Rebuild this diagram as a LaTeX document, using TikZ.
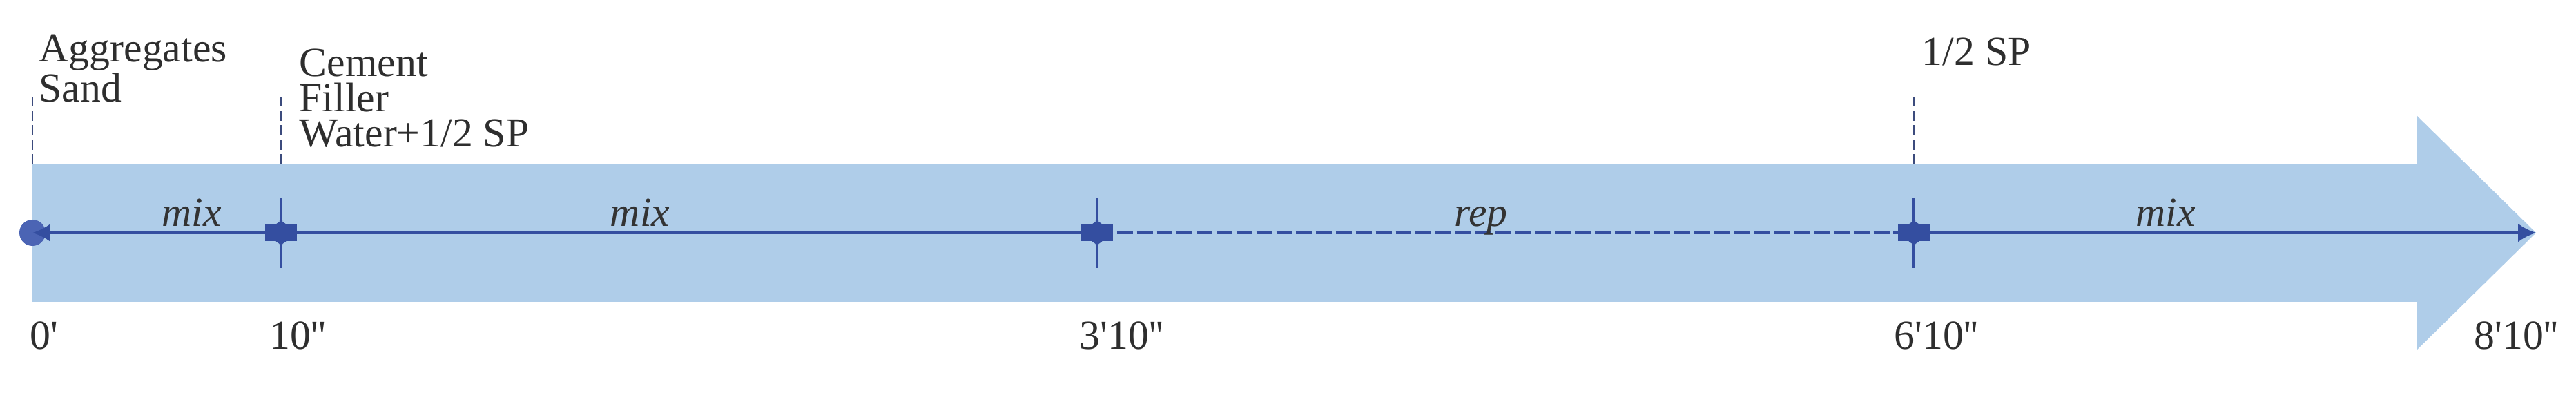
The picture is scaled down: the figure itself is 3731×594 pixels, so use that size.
\documentclass[tikz,border=0pt]{standalone}
\usepackage{fontspec}
\setmainfont{Liberation Serif}
\usetikzlibrary{arrows.meta}
\definecolor{bandblue}{RGB}{175,205,233}
\definecolor{lineblue}{RGB}{52,78,160}
\definecolor{dropnavy}{RGB}{60,75,125}
\definecolor{dotblue}{RGB}{75,100,180}
\tikzset{
    lbl/.style={font=\fontsize{17}{14.5}\selectfont, text=black!82, inner sep=0pt, align=left},
    seglbl/.style={font=\fontsize{17}{15}\selectfont\itshape, text=black!80, inner sep=0pt, anchor=base, yshift=0.09cm},
    tline/.style={lineblue, line width=1.1pt},
    dropline/.style={dropnavy, line width=0.85pt, dash pattern=on 4.2pt off 1.8pt},
    crossline/.style={lineblue, line width=0.95pt},
}
\begin{document}
\begin{tikzpicture}[x=0.01cm, y=0.01cm, >=latex]
\useasboundingbox (0,0) rectangle (3731,594);
% big arrow
\fill[bandblue] (47,157)--(47,356)--(3500,356)--(3500,427)--(3673,257)--(3500,87)--(3500,157)--cycle;

\coordinate (t0) at (47,257);
\coordinate (t1) at (407,257);
\coordinate (t2) at (1589,257);
\coordinate (t3) at (2772,257);
\coordinate (t4) at (3673,257);

\foreach \p in {t0,t1,t3}
{
    \draw[dropline] (\p) ++(0,99) -- ++(0,98);
}

\fill[dotblue] (t0) circle (19);
\draw[tline, {Latex[length=0.25cm, width=0.25cm]}-] (t0) -- node[seglbl, pos=.64]{mix} (t1);
\draw[tline] (t1) -- node[seglbl, pos=.44]{mix} (t2);
\draw[tline, dash pattern=on 6.5pt off 1.7pt] (t2) -- node[seglbl, pos=.47]{rep} (t3);
\draw[tline, -{Latex[length=0.26cm, width=0.27cm]}] (t3) -- node[seglbl, pos=.405]{mix} (t4);

\foreach \p in {t1,t2,t3}
{
    \fill[lineblue, shift={(\p)}] (-23,-12) rectangle (23,12);
    \fill[lineblue, shift={(\p)}, rounded corners=4] (-11,-17) rectangle (11,17);
    \draw[crossline] (\p) ++(0,-51) -- ++(0,101);
}

\node[lbl, anchor=north west] (agg) at (56,545) {Aggregates\\Sand};
\node[lbl, anchor=north west] (cem) at (433,524) {Cement\\Filler\\Water+1/2 SP};
\node[lbl, anchor=base west] (sp) at (2783,499) {1/2 SP};

\node[lbl, anchor=base west] (l0) at (43,88) {0\textquotesingle};
\node[lbl, anchor=base west] (l1) at (390,88) {10\textquotesingle\textquotesingle};
\node[lbl, anchor=base west] (l2) at (1563,88) {3\textquotesingle10\textquotesingle\textquotesingle};
\node[lbl, anchor=base west] (l3) at (2743,88) {6\textquotesingle10\textquotesingle\textquotesingle};
\node[lbl, anchor=base west] (l4) at (3583,88) {8\textquotesingle10\textquotesingle\textquotesingle};

\end{tikzpicture}
\end{document}
